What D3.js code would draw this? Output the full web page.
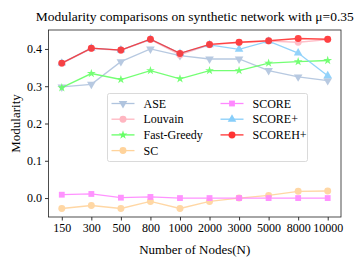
<!DOCTYPE html>
<html>
<head>
<meta charset="utf-8">
<script src="https://cdn.jsdelivr.net/npm/d3@7"></script>
<style>
  body { margin: 0; background: #fff; }
</style>
</head>
<body>
<div id="chart"></div>
<script>
// categories on the x axis
const nodes = ["150", "300", "500", "800", "1000", "2000", "3000", "5000", "8000", "10000"];

// modularity per method
const ase        = [0.298, 0.305, 0.366, 0.400, 0.382, 0.373, 0.373, 0.342, 0.325, 0.315];
const louvain    = [0.361, 0.401, 0.396, 0.425, 0.384, 0.411, 0.417, 0.421, 0.418, 0.425];
const fastGreedy = [0.296, 0.334, 0.318, 0.342, 0.320, 0.342, 0.342, 0.362, 0.366, 0.369];
const sc         = [-0.028, -0.020, -0.028, -0.009, -0.028, -0.009, 0.000, 0.007, 0.018, 0.019];
const score      = [0.009, 0.011, 0.001, 0.003, 0.000, 0.000, 0.000, 0.000, 0.000, 0.000];
const scorePlus  = [0.362, 0.402, 0.397, 0.426, 0.388, 0.411, 0.399, 0.421, 0.389, 0.328];
const scorehPlus = [0.362, 0.402, 0.397, 0.426, 0.388, 0.412, 0.418, 0.422, 0.428, 0.426];

const series = [
    {name: "ASE", values: ase, colour: "#b0c4de", marker: "down"},
    {name: "Louvain", values: louvain, colour: "#ffb6c1", marker: "circle"},
    {name: "Fast-Greedy", values: fastGreedy, colour: "#66ff66", marker: "star"},
    {name: "SC", values: sc, colour: "#ffd39b", marker: "circle"},
    {name: "SCORE", values: score, colour: "#ff88ff", marker: "square"},
    {name: "SCORE+", values: scorePlus, colour: "#87cefa", marker: "up"},
    {name: "SCOREH+", values: scorehPlus, colour: "#ff3333", marker: "circle"}
];

const yTicks = [0.0, 0.1, 0.2, 0.3, 0.4];

const font = "'Liberation Serif', 'Times New Roman', 'DejaVu Serif', serif";

const width = 357, height = 268;
const margin = {top: 30, right: 16, bottom: 51, left: 48.5};
const w = width - margin.left - margin.right;
const h = height - margin.top - margin.bottom;

const svg = d3.select("#chart")
    .append("svg")
    .attr("width", width)
    .attr("height", height)
    .style("font-family", font)
    .append("g")
    .attr("transform", `translate(${margin.left},${margin.top})`);

// index scale with matplotlib-like 5% margins
const x = d3.scaleLinear()
    .domain([-0.45, nodes.length - 1 + 0.45])
    .range([0, w]);

const y = d3.scaleLinear()
    .domain([-0.0508, 0.4508])
    .range([h, 0]);

// Axes
const xAxis = svg.append("g")
    .attr("transform", `translate(0,${h})`)
    .call(d3.axisBottom(x).tickValues(d3.range(nodes.length)).tickFormat(i => nodes[i]).tickSize(3.5).tickPadding(3));
const yAxis = svg.append("g")
    .call(d3.axisLeft(y).tickValues(yTicks).tickFormat(d3.format(".1f")).tickSize(3.5).tickPadding(3));
[xAxis, yAxis].forEach(a => {
    a.attr("font-family", null);
    a.select(".domain").remove();
    a.selectAll("text").style("font-size", "12px").style("font-family", font).attr("fill", "#000");
    a.selectAll("line").attr("stroke", "#000").attr("stroke-width", 0.8);
});

// frame
svg.append("rect")
    .attr("width", w)
    .attr("height", h)
    .attr("fill", "none")
    .attr("stroke", "#222")
    .attr("stroke-width", 0.8);

const symbols = {
    circle: d3.symbol(d3.symbolCircle, 38),
    square: d3.symbol(d3.symbolSquare, 34),
    star: d3.symbol(d3.symbolStar, 24),
    up: d3.symbol(d3.symbolTriangle, 32),
    down: d3.symbol(d3.symbolTriangle, 32)
};

function drawMarker(g, s, cx, cy) {
    g.append("path")
        .attr("d", symbols[s.marker]())
        .attr("transform", `translate(${cx},${cy})` + (s.marker === "down" ? " rotate(180)" : ""))
        .attr("fill", s.colour);
}

const line = d3.line()
    .x((d, i) => x(i))
    .y(d => y(d));

series.forEach(s => {
    const g = svg.append("g").attr("opacity", 0.9);
    g.append("path")
        .datum(s.values)
        .attr("d", line)
        .attr("fill", "none")
        .attr("stroke", s.colour)
        .attr("stroke-width", 1.3);
    s.values.forEach((v, i) => drawMarker(g, s, x(i), y(v)));
});

// Title and labels
svg.append("text")
    .attr("x", w / 2)
    .attr("y", -9)
    .attr("text-anchor", "middle")
    .style("font-size", "13.5px")
    .style("font-family", font)
    .text("Modularity comparisons on synthetic network with μ=0.35");

svg.append("text")
    .attr("x", w / 2)
    .attr("y", h + 37)
    .attr("text-anchor", "middle")
    .style("font-size", "13px")
    .style("font-family", font)
    .text("Number of Nodes(N)");

svg.append("text")
    .attr("transform", `translate(${-29},${h / 2}) rotate(-90)`)
    .attr("text-anchor", "middle")
    .style("font-size", "13px")
    .style("font-family", font)
    .text("Modularity");

// Legend
const legend = svg.append("g").attr("transform", `translate(${107.5 - margin.left},${93.5 - margin.top})`);
legend.append("rect")
    .attr("width", 200)
    .attr("height", 68)
    .attr("rx", 2)
    .attr("fill", "#fff")
    .attr("fill-opacity", 0.85)
    .attr("stroke", "#d0d0d0")
    .attr("stroke-width", 0.8);

series.forEach((s, k) => {
    const col = k < 4 ? 0 : 1;
    const row = k < 4 ? k : k - 4;
    const item = legend.append("g")
        .attr("transform", `translate(${4 + col * 109},${10 + row * 15.7})`);
    item.append("line")
        .attr("x1", 0).attr("x2", 23)
        .attr("stroke", s.colour)
        .attr("stroke-width", 1.3);
    drawMarker(item, s, 11.5, 0);
    item.append("text")
        .attr("x", 32)
        .attr("y", 4)
        .style("font-size", "12px")
        .style("font-family", font)
        .text(s.name);
});
</script>
</body>
</html>
